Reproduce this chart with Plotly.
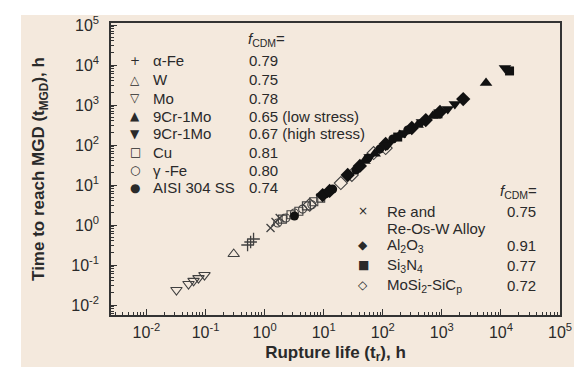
import plotly.graph_objects as go

# ---------------- data (hours) ----------------
alpha_fe_x = [0.515, 0.58, 0.65]
alpha_fe_y = [0.316, 0.376, 0.447]

w_x = [0.30]
w_y = [0.188]

mo_x = [0.0322, 0.0515, 0.0627, 0.076, 0.096]
mo_y = [0.0237, 0.0335, 0.040, 0.047, 0.056]

cr_low_x = [49, 73, 194, 390, 700, 5600]
cr_low_y = [40, 60, 178, 316, 530, 3550]

cr_high_x = [60, 121, 235, 460, 1260, 1660, 11700]
cr_high_y = [50, 100, 200, 376, 794, 1060, 8400]

cu_x = [2.0, 2.8, 3.8, 5.1, 6.8, 8.9]
cu_y = [1.4, 1.8, 2.2, 3.0, 3.8, 4.7]

gamma_fe_x = [1.66, 2.3, 3.2, 4.4, 6.3]
gamma_fe_y = [1.12, 1.5, 2.0, 2.5, 3.2]

aisi_x = [3.2, 10.8, 14.2, 35, 56, 89, 148, 265]
aisi_y = [1.68, 6.0, 7.9, 23.7, 47, 79, 141, 237]

re_x = [1.26, 1.53, 1.8]
re_y = [0.84, 1.19, 1.5]

al2o3_x = [9.6, 12.6, 25.5, 41, 112, 310, 535, 930, 2300]
al2o3_y = [5.6, 7.1, 17.8, 30, 106, 266, 420, 670, 1410]

si3n4_x = [179, 860, 14000]
si3n4_y = [158, 600, 7100]

mosi2_x = [5.8, 19.5, 30, 70, 112]
mosi2_y = [3.2, 11.2, 17.8, 63, 84]

# legend texts
left_names = ["α-Fe", "W", "Mo", "9Cr-1Mo", "9Cr-1Mo", "Cu", "γ -Fe", "AISI 304 SS"]
left_values = ["0.79", "0.75", "0.78", "0.65 (low stress)", "0.67 (high stress)", "0.81", "0.80", "0.74"]
left_keys = ["+", "△", "▽", "▲", "▼", "□", "○", "●"]

right_names = ["Re and", "Re-Os-W Alloy", "Al<sub>2</sub>O<sub>3</sub>", "Si<sub>3</sub>N<sub>4</sub>",
               "MoSi<sub>2</sub>-SiC<sub>p</sub>"]
right_values = ["0.75", "", "0.91", "0.77", "0.72"]
right_keys = ["×", "", "◆", "■", "◇"]

tick_exps = [-2, -1, 0, 1, 2, 3, 4, 5]

# ---------------- figure ----------------
FONT = "Arial, 'Liberation Sans', sans-serif"
TXT = "#2a2a2a"
OPEN = "#404040"
BLK = "#111111"

fig = go.Figure()

def add(x, y, symbol, size, filled, lw=1.1):
    fig.add_trace(go.Scatter(
        x=x, y=y, mode="markers", showlegend=False,
        marker=dict(symbol=symbol, size=size,
                    color=BLK if filled else OPEN,
                    line=dict(width=lw, color=BLK if filled else OPEN))))

add(mo_x, mo_y, "triangle-down-open", 10, False)
add(w_x, w_y, "triangle-up-open", 10, False)
add(alpha_fe_x, alpha_fe_y, "cross-thin-open", 9, False, 1.3)
add(re_x, re_y, "x-thin-open", 8, False, 1.3)
add(gamma_fe_x, gamma_fe_y, "circle-open", 8, False)
add(cu_x, cu_y, "square-open", 8, False)
add(mosi2_x, mosi2_y, "diamond-open", 10, False)
add(aisi_x, aisi_y, "circle", 9, True, 0)
add(al2o3_x, al2o3_y, "diamond", 11, True, 0)
add(cr_low_x, cr_low_y, "triangle-up", 11, True, 0)
add(cr_high_x, cr_high_y, "triangle-down", 11, True, 0)
add(si3n4_x, si3n4_y, "square", 9, True, 0)

tickvals = [10.0 ** e for e in tick_exps]
ticktext = ["10<sup>%d</sup>" % e for e in tick_exps]
minor_vals = [m * 10.0 ** e for e in range(-3, 6) for m in range(2, 10)]

axis_common = dict(
    type="log", showgrid=False, zeroline=False,
    showline=True, linecolor="#333333", linewidth=1.5, mirror=True,
    ticks="inside", ticklen=6, tickwidth=1.2, tickcolor="#333333",
    tickmode="array", tickvals=tickvals, ticktext=ticktext,
    tickfont=dict(family=FONT, size=16, color=TXT),
    minor=dict(ticks="inside", ticklen=3, tickwidth=1, tickcolor="#333333",
               tickmode="array", tickvals=minor_vals, showgrid=False),
)

fig.update_xaxes(**axis_common, range=[-2.6, 5.0], ticklabelstandoff=2,
                 title=dict(text="<b>Rupture life (t<sub>r</sub>), h</b>",
                            font=dict(family=FONT, size=17, color=TXT), standoff=6))
fig.update_yaxes(**axis_common, range=[-2.25, 5.05], ticklabelstandoff=7,
                 title=dict(text="<b>Time to reach MGD (t<sub>MGD</sub>), h</b>",
                            font=dict(family=FONT, size=17, color=TXT), standoff=22))

# plot area: x 103..552, y 15..307 in a 582x367 page
L, R, T, B = 103, 552, 15, 307
W, H = R - L, B - T

def px(x):
    return (x - L) / W

def py(y):
    return (B - y) / H

shapes = [dict(type="rect", xref="paper", yref="paper", layer="below",
               x0=px(13), x1=px(577), y0=py(365), y1=py(7),
               fillcolor="#F4E9DD", line=dict(width=0))]

ann = []
def txt(x, y, s, size=15, anchor="left", fam=FONT):
    ann.append(dict(x=px(x), y=py(y), xref="paper", yref="paper", text=s,
                    showarrow=False, xanchor=anchor, yanchor="middle",
                    font=dict(family=fam, size=size, color=TXT)))

left_rows = [53, 71.5, 90, 108, 126, 144, 162, 180]
txt(238, 31, "<i>f</i><sub>CDM</sub>=")
for yy, k, n, v in zip(left_rows, left_keys, left_names, left_values):
    txt(127, yy, k, 12, "center", "DejaVu Sans")
    txt(143, yy, n)
    txt(239, yy, v)

right_rows = [203, 220, 237, 257, 277]
txt(490, 183, "<i>f</i><sub>CDM</sub>=")
for yy, k, n, v in zip(right_rows, right_keys, right_names, right_values):
    if k:
        txt(355, yy, k, 12, "center", "DejaVu Sans")
    txt(377, yy, n)
    if v:
        txt(497, yy, v)

fig.update_layout(
    width=582, height=367,
    margin=dict(l=L, r=582 - R, t=T, b=367 - B, autoexpand=False),
    paper_bgcolor="white", plot_bgcolor="rgba(0,0,0,0)",
    shapes=shapes, annotations=ann, showlegend=False,
    font=dict(family=FONT, color=TXT),
)

fig.write_html("out.html")
